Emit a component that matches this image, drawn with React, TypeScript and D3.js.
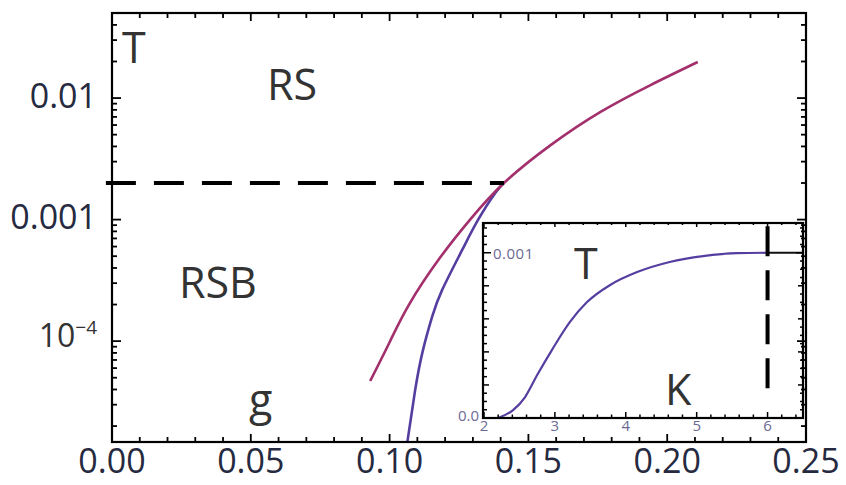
import { useEffect, useRef } from 'react';
import * as d3 from 'd3';

// main panel: T vs g (log scale)
const xTicks = [0, 0.05, 0.1, 0.15, 0.2, 0.25];
const xTickLabels = ['0.00', '0.05', '0.10', '0.15', '0.20', '0.25'];
const yTicks = [0.01, 0.001];
const yTickLabels = ['0.01', '0.001'];

// RS / RSB boundary (upper, red)
const rsG = [0.093, 0.1, 0.107, 0.118, 0.129, 0.1412, 0.158, 0.176, 0.194, 0.211];
const rsT = [4.7e-5, 9.8e-5, 2.0e-4, 4.8e-4, 1.0e-3, 2.0e-3, 4.1e-3, 7.7e-3, 1.28e-2, 1.98e-2];

// lower (blue) curve
const blueG = [0.1058, 0.1092, 0.112, 0.1153, 0.1189, 0.1261, 0.1318, 0.138, 0.1412];
const blueT = [1.2e-5, 3.95e-5, 8.4e-5, 1.58e-4, 2.63e-4, 5.6e-4, 9.9e-4, 1.65e-3, 2.0e-3];

const critG = 0.1412;
const critT = 0.002;

// inset: T vs K (linear)
const insetK = [2.2, 2.41, 2.58, 2.75, 2.97, 3.21, 3.45, 3.78, 4.16, 4.62, 5.09, 5.57, 6.0];
const insetT = [0, 4.8e-5, 1.27e-4, 2.6e-4, 4.2e-4, 5.8e-4, 7.0e-4, 8.05e-4, 8.83e-4, 9.44e-4, 9.8e-4, 9.98e-4, 1.0e-3];
const insetXTicks = [2, 3, 4, 5, 6];
const kDash = 6;
const kMax = 6.5;

export default function App() {
  const svgRef = useRef<SVGSVGElement>(null);

  useEffect(() => {
    const svg = d3.select(svgRef.current);
    svg.selectAll('*').remove();

    const font = "'Open Sans', sans-serif";
    const m = { left: 112, right: 806, top: 13, bottom: 442 };
    const x = d3.scaleLinear().domain([0, 0.25]).range([m.left, m.right]);
    const y = d3.scaleLog().domain([Math.pow(10, -4.83), Math.pow(10, -1.3)]).range([m.bottom, m.top]);

    svg.append('defs').append('clipPath').attr('id', 'plotclip')
      .append('rect').attr('x', m.left).attr('y', m.top)
      .attr('width', m.right - m.left).attr('height', m.bottom - m.top);

    const plot = svg.append('g').attr('clip-path', 'url(#plotclip)');

    const line = d3.line<[number, number]>()
      .x((d) => x(d[0]))
      .y((d) => y(d[1]))
      .curve(d3.curveNatural);

    // dashed T = 0.002
    svg.append('line')
      .attr('x1', x(-0.0022)).attr('x2', x(critG))
      .attr('y1', y(critT)).attr('y2', y(critT))
      .attr('stroke', '#000').attr('stroke-width', 4)
      .attr('stroke-dasharray', '30,18');

    plot.append('path')
      .attr('d', line(blueG.map((g, i) => [g, blueT[i]] as [number, number])))
      .attr('fill', 'none').attr('stroke', '#553ea0').attr('stroke-width', 2.6);

    plot.append('path')
      .attr('d', line(rsG.map((g, i) => [g, rsT[i]] as [number, number])))
      .attr('fill', 'none').attr('stroke', '#a3306c').attr('stroke-width', 2.6);

    // ---- inset ----
    const ix = d3.scaleLinear().domain([2, kMax]).range([484, 803]);
    const iy = d3.scaleLinear().domain([0, 0.00118]).range([418, 223]);
    const inset = svg.append('g');
    inset.append('rect')
      .attr('x', ix(2) - 1).attr('y', iy(0.00118))
      .attr('width', ix(kMax) - ix(2) + 1).attr('height', iy(0) - iy(0.00118))
      .attr('fill', '#fff');

    const iline = d3.line<[number, number]>()
      .x((d) => ix(d[0]))
      .y((d) => iy(d[1]))
      .curve(d3.curveMonotoneX);
    inset.append('path')
      .attr('d', iline(insetK.map((k, i) => [k, insetT[i]] as [number, number])))
      .attr('fill', 'none').attr('stroke', '#553ea0').attr('stroke-width', 2.2);
    inset.append('line')
      .attr('x1', ix(kDash)).attr('x2', ix(kMax))
      .attr('y1', iy(0.001)).attr('y2', iy(0.001))
      .attr('stroke', '#111').attr('stroke-width', 2.2);
    inset.append('line')
      .attr('x1', ix(kDash)).attr('x2', ix(kDash))
      .attr('y1', iy(1.8e-4)).attr('y2', iy(0.00118))
      .attr('stroke', '#000').attr('stroke-width', 4)
      .attr('stroke-dasharray', '30,14');

    // inset ticks
    for (let i = 0; i <= 22; i++) {
      const k = 2 + i * 0.2;
      const len = i % 5 === 0 ? 6 : 3.5;
      inset.append('line').attr('x1', ix(k)).attr('x2', ix(k))
        .attr('y1', iy(0)).attr('y2', iy(0) - len).attr('stroke', '#000').attr('stroke-width', 1.5);
      inset.append('line').attr('x1', ix(k)).attr('x2', ix(k))
        .attr('y1', iy(0.00118)).attr('y2', iy(0.00118) + (i % 5 === 0 ? 4 : 2))
        .attr('stroke', '#000').attr('stroke-width', 1.5);
    }
    for (let i = 0; i <= 23; i++) {
      const t = i * 5e-5;
      const len = i % 20 === 0 ? 7 : i % 4 === 0 ? 5 : 3;
      inset.append('line').attr('x1', ix(2)).attr('x2', ix(2) + len)
        .attr('y1', iy(t)).attr('y2', iy(t)).attr('stroke', '#000').attr('stroke-width', 1.5);
      inset.append('line').attr('x1', ix(kMax)).attr('x2', ix(kMax) - len)
        .attr('y1', iy(t)).attr('y2', iy(t)).attr('stroke', '#000').attr('stroke-width', 1.5);
    }
    inset.append('rect')
      .attr('x', ix(2) - 1).attr('y', iy(0.00118))
      .attr('width', ix(kMax) - ix(2) + 1).attr('height', iy(0) - iy(0.00118))
      .attr('fill', 'none').attr('stroke', '#000').attr('stroke-width', 2.2);

    const insetLabel = '#6c6a94';
    inset.selectAll('text.ix').data(insetXTicks).enter().append('text')
      .attr('x', (d) => ix(d)).attr('y', iy(0) + 13)
      .attr('text-anchor', 'middle').attr('font-family', font).attr('font-size', 15)
      .attr('fill', insetLabel).text((d) => String(d));
    inset.append('text').attr('x', ix(2) - 5).attr('y', iy(0) + 3)
      .attr('text-anchor', 'end').attr('font-family', font).attr('font-size', 15)
      .attr('fill', insetLabel).text('0.0');
    inset.append('text').attr('x', ix(2) + 9).attr('y', iy(0.001) + 6)
      .attr('font-family', font).attr('font-size', 15).attr('letter-spacing', 0.5)
      .attr('fill', insetLabel).text('0.001');

    // ---- main frame and ticks ----
    const axes = svg.append('g');
    for (let i = 0; i <= 25; i++) {
      const g = i * 0.01;
      const len = i % 5 === 0 ? 8 : 5;
      axes.append('line').attr('x1', x(g)).attr('x2', x(g))
        .attr('y1', m.bottom).attr('y2', m.bottom - len).attr('stroke', '#000').attr('stroke-width', 1.8);
      axes.append('line').attr('x1', x(g)).attr('x2', x(g))
        .attr('y1', m.top).attr('y2', m.top + len).attr('stroke', '#000').attr('stroke-width', 1.8);
    }
    const [ylo, yhi] = y.domain();
    for (let d = -5; d <= -2; d++) {
      for (let k = 1; k <= 9; k++) {
        const v = k * Math.pow(10, d);
        if (v < ylo || v > yhi) continue;
        const len = k === 1 ? 9 : 5;
        axes.append('line').attr('x1', m.left).attr('x2', m.left + len)
          .attr('y1', y(v)).attr('y2', y(v)).attr('stroke', '#000').attr('stroke-width', 1.8);
        axes.append('line').attr('x1', m.right).attr('x2', m.right - len)
          .attr('y1', y(v)).attr('y2', y(v)).attr('stroke', '#000').attr('stroke-width', 1.8);
      }
    }
    axes.append('rect').attr('x', m.left).attr('y', m.top)
      .attr('width', m.right - m.left).attr('height', m.bottom - m.top)
      .attr('fill', 'none').attr('stroke', '#000').attr('stroke-width', 2.2);

    const tickColor = '#262a40';
    axes.selectAll('text.xl').data(xTicks).enter().append('text')
      .attr('x', (d) => x(d)).attr('y', 473)
      .attr('text-anchor', 'middle').attr('font-family', font).attr('font-size', 34)
      .attr('fill', tickColor).text((d, i) => xTickLabels[i]);
    axes.selectAll('text.yl').data(yTicks).enter().append('text')
      .attr('x', 97).attr('y', (d) => y(d) + 9.5)
      .attr('text-anchor', 'end').attr('font-family', font).attr('font-size', 34)
      .attr('fill', tickColor).text((d, i) => yTickLabels[i]);
    const e4 = axes.append('text').attr('x', 97).attr('y', y(1e-4) + 6)
      .attr('text-anchor', 'end').attr('font-family', font).attr('fill', '#333');
    e4.append('tspan').attr('font-size', 32).text('10');
    e4.append('tspan').attr('font-size', 19).attr('dy', -13).text('\u22124');

    // region and axis labels
    const labels: [string, number, number][] = [
      ['T', 122, 63],
      ['RS', 267, 100],
      ['RSB', 179, 298],
      ['g', 249, 415],
      ['T', 574, 279],
      ['K', 665, 405],
    ];
    svg.selectAll('text.lab').data(labels).enter().append('text')
      .attr('x', (d) => d[1]).attr('y', (d) => d[2])
      .attr('font-family', font).attr('font-size', 43)
      .attr('fill', '#333').text((d) => d[0]);
  }, []);

  return (
    <svg ref={svgRef} width={846} height={485}
      style={{ position: 'absolute', left: 0, top: 0, background: '#fff' }} />
  );
}
